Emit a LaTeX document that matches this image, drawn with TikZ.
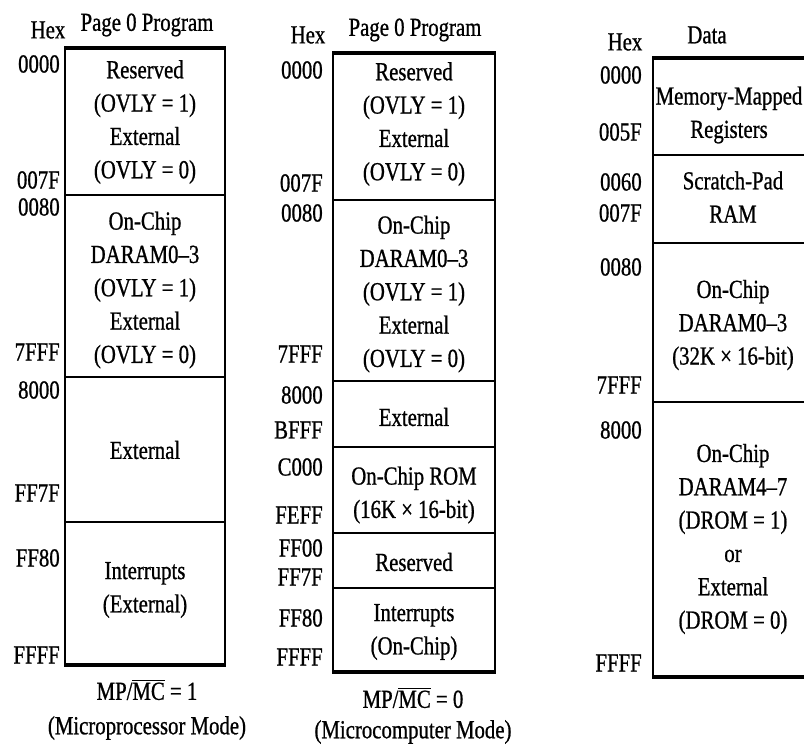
\documentclass[tikz,border=0pt]{standalone}
\usepackage{fontspec}
\setmainfont{Liberation Serif}[FakeStretch=0.8, FakeBold=0.8]
\usetikzlibrary{positioning}

\begin{document}
\begin{tikzpicture}[x=0.75pt, y=-0.75pt,
        every node/.style={font=\fontsize{19.5}{25}\selectfont, inner sep=0pt},
        sec/.style={align=center},
        addr/.style={anchor=east},
        frame/.style={line width=2pt},
        edge/.style={line width=3pt},
        divider/.style={line width=1.8pt}
    ]
    \useasboundingbox (0,0) rectangle (804,749);
    \clip (0,0) rectangle (804,749);
    % Column 1: Page 0 Program, MP/MC = 1
    \draw[frame] (65,48) rectangle (225,665);
    \draw[edge] (64,48) -- (226,48);
    \draw[edge] (64,665) -- (226,665);
    \draw[divider] (65,195) -- (225,195);
    \draw[divider] (65,377) -- (225,377);
    \draw[divider] (65,522) -- (225,522);
    \node (c1hex) at (48,30) {Hex};
    \node (c1title) at (147,25) {Page 0 Program};
    \node[sec] (c1s1) at (145,122) {Reserved\\(OVLY = 1)\\External\\(OVLY = 0)};
    \node[sec] (c1s2) at (145,290) {On-Chip\\DARAM0--3\\(OVLY = 1)\\External\\(OVLY = 0)};
    \node[sec] (c1s3) at (145,450) {External};
    \node[sec] (c1s4) at (145,590) {Interrupts\\(External)};
    \node[addr] (c1a1) at (60,64) {0000};
    \node[addr] (c1a2) at (60,180) {007F};
    \node[addr] (c1a3) at (60,207) {0080};
    \node[addr] (c1a4) at (60,352) {7FFF};
    \node[addr] (c1a5) at (60,390) {8000};
    \node[addr] (c1a6) at (60,493) {FF7F};
    \node[addr] (c1a7) at (60,558) {FF80};
    \node[addr] (c1a8) at (60,655) {FFFF};
    \node (c1cap) at (147,690) {MP/$\overline{\mbox{MC}}$ = 1};
    \node (c1mode) at (147,728) {(Microprocessor Mode)};
    % Column 2: Page 0 Program, MP/MC = 0
    \draw[frame] (333,53) rectangle (495,672);
    \draw[edge] (332,53) -- (496,53);
    \draw[edge] (332,672) -- (496,672);
    \draw[divider] (333,200) -- (495,200);
    \draw[divider] (333,381) -- (495,381);
    \draw[divider] (333,447) -- (495,447);
    \draw[divider] (333,533) -- (495,533);
    \draw[divider] (333,588) -- (495,588);
    \node (c2hex) at (308,35) {Hex};
    \node (c2title) at (415,30) {Page 0 Program};
    \node[sec] (c2s1) at (414,124) {Reserved\\(OVLY = 1)\\External\\(OVLY = 0)};
    \node[sec] (c2s2) at (414,294) {On-Chip\\DARAM0--3\\(OVLY = 1)\\External\\(OVLY = 0)};
    \node[sec] (c2s3) at (414,417) {External};
    \node[sec] (c2s4) at (414,495) {On-Chip ROM\\(16K × 16-bit)};
    \node[sec] (c2s5) at (414,562) {Reserved};
    \node[sec] (c2s6) at (414,632) {Interrupts\\(On-Chip)};
    \node[addr] (c2a1) at (323,70) {0000};
    \node[addr] (c2a2) at (323,183) {007F};
    \node[addr] (c2a3) at (323,213) {0080};
    \node[addr] (c2a4) at (323,354) {7FFF};
    \node[addr] (c2a5) at (323,395) {8000};
    \node[addr] (c2a6) at (323,430) {BFFF};
    \node[addr] (c2a7) at (323,467) {C000};
    \node[addr] (c2a8) at (323,515) {FEFF};
    \node[addr] (c2a9) at (323,548) {FF00};
    \node[addr] (c2a10) at (323,577) {FF7F};
    \node[addr] (c2a11) at (323,618) {FF80};
    \node[addr] (c2a12) at (323,657) {FFFF};
    \node (c2cap) at (413,698) {MP/$\overline{\mbox{MC}}$ = 0};
    \node (c2mode) at (413,732) {(Microcomputer Mode)};
    % Column 3: Data
    \draw[frame] (653,58) rectangle (817,677);
    \draw[edge] (652,58) -- (818,58);
    \draw[edge] (652,677) -- (818,677);
    \draw[divider] (653,155) -- (817,155);
    \draw[divider] (653,243) -- (817,243);
    \draw[divider] (653,402) -- (817,402);
    \node (c3hex) at (625,42) {Hex};
    \node (c3title) at (707,35) {Data};
    \node[sec] (c3s1) at (729,115) {Memory-Mapped\\Registers};
    \node[sec] (c3s2) at (733,197) {Scratch-Pad\\RAM};
    \node[sec] (c3s3) at (733,325) {On-Chip\\DARAM0--3\\(32K × 16-bit)};
    \node[sec] (c3s4) at (733,539) {On-Chip\\DARAM4--7\\(DROM = 1)\\or\\External\\(DROM = 0)};
    \node[addr] (c3a1) at (642,75) {0000};
    \node[addr] (c3a2) at (642,132) {005F};
    \node[addr] (c3a3) at (642,182) {0060};
    \node[addr] (c3a4) at (642,213) {007F};
    \node[addr] (c3a5) at (642,267) {0080};
    \node[addr] (c3a6) at (642,385) {7FFF};
    \node[addr] (c3a7) at (642,430) {8000};
    \node[addr] (c3a8) at (642,663) {FFFF};
\end{tikzpicture}
\end{document}
